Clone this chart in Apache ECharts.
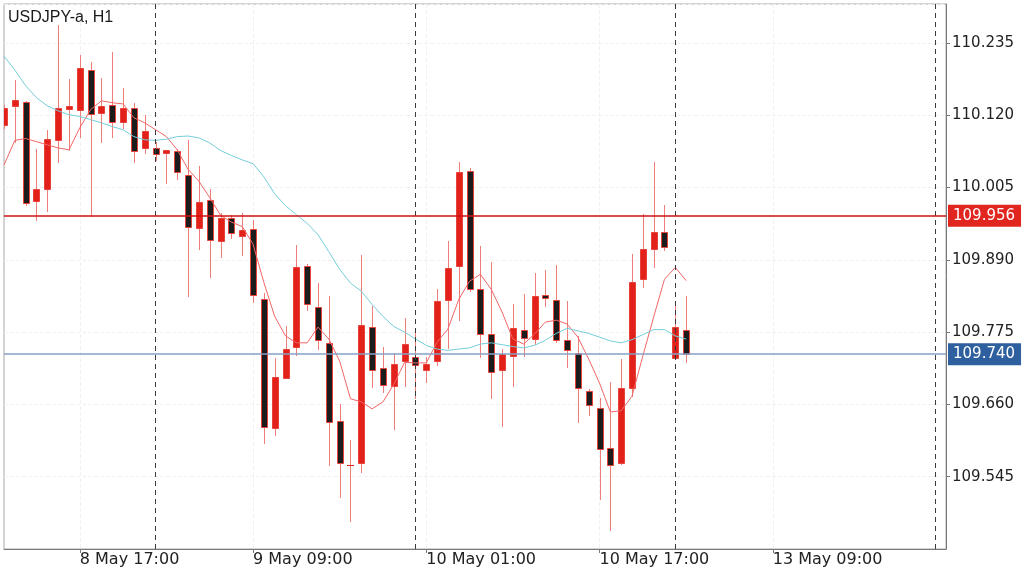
<!DOCTYPE html>
<html><head><meta charset="utf-8">
<script src="https://cdn.jsdelivr.net/npm/echarts@6/dist/echarts.min.js"></script>
<style>html,body{margin:0;padding:0;background:#fff}#c{width:1024px;height:577px}</style>
</head><body><div id="c"></div>
<script>
const chartTitle = 'USDJPY-a, H1';
const categories = [
 '8 May 10:00','8 May 11:00','8 May 12:00','8 May 13:00','8 May 14:00','8 May 15:00','8 May 16:00','8 May 17:00','8 May 18:00','8 May 19:00','8 May 20:00','8 May 21:00','8 May 22:00','8 May 23:00',
 '9 May 00:00','9 May 01:00','9 May 02:00','9 May 03:00','9 May 04:00','9 May 05:00','9 May 06:00','9 May 07:00','9 May 08:00','9 May 09:00','9 May 10:00','9 May 11:00','9 May 12:00','9 May 13:00','9 May 14:00','9 May 15:00','9 May 16:00','9 May 17:00','9 May 18:00','9 May 19:00','9 May 20:00','9 May 21:00','9 May 22:00','9 May 23:00',
 '10 May 00:00','10 May 01:00','10 May 02:00','10 May 03:00','10 May 04:00','10 May 05:00','10 May 06:00','10 May 07:00','10 May 08:00','10 May 09:00','10 May 10:00','10 May 11:00','10 May 12:00','10 May 13:00','10 May 14:00','10 May 15:00','10 May 16:00','10 May 17:00','10 May 18:00','10 May 19:00','10 May 20:00','10 May 21:00','10 May 22:00','10 May 23:00',
 '13 May 00:00','13 May 01:00','13 May 02:00','13 May 03:00','13 May 04:00','13 May 05:00','13 May 06:00','13 May 07:00','13 May 08:00','13 May 09:00','13 May 10:00','13 May 11:00','13 May 12:00','13 May 13:00','13 May 14:00','13 May 15:00','13 May 16:00','13 May 17:00','13 May 18:00','13 May 19:00','13 May 20:00','13 May 21:00','13 May 22:00','13 May 23:00',
 '14 May 00:00','14 May 01:00'
];
const opens = [110.104,110.135,110.141,109.983,110.002,110.081,110.130,110.128,110.192,110.123,110.137,110.110,110.132,110.068,110.068,110.060,110.063,110.025,109.940,109.985,109.920,109.957,109.928,109.939,109.827,109.622,109.702,109.752,109.880,109.815,109.758,109.633,109.564,109.567,109.783,109.718,109.690,109.729,109.736,109.714,109.729,109.826,109.880,110.032,109.843,109.772,109.715,109.737,109.779,109.764,109.834,109.826,109.763,109.742,109.682,109.655,109.591,109.567,109.686,109.860,109.908,109.934,109.734,109.779];
const closes = [110.131,110.144,109.981,110.003,110.083,110.131,110.134,110.195,110.122,110.135,110.109,110.131,110.063,110.095,110.058,110.064,110.029,109.943,109.982,109.921,109.956,109.932,109.937,109.834,109.624,109.703,109.748,109.878,109.819,109.762,109.632,109.567,109.564,109.786,109.714,109.691,109.724,109.756,109.723,109.724,109.825,109.877,110.029,109.843,109.772,109.711,109.740,109.781,109.765,109.832,109.830,109.762,109.746,109.686,109.659,109.589,109.564,109.686,109.855,109.908,109.935,109.911,109.783,109.740];
const lows = [110.100,110.078,109.978,109.954,109.967,110.045,110.064,110.086,109.959,110.078,110.086,110.100,110.045,110.060,110.049,110.013,110.018,109.833,109.907,109.862,109.895,109.925,109.897,109.823,109.599,109.611,109.702,109.739,109.811,109.748,109.563,109.513,109.475,109.553,109.687,109.680,109.621,109.690,109.671,109.696,109.723,109.749,109.795,109.840,109.735,109.671,109.625,109.690,109.737,109.756,109.816,109.759,109.719,109.632,109.643,109.509,109.460,109.566,109.674,109.847,109.879,109.906,109.734,109.727];
const highs = [110.136,110.176,110.143,110.066,110.097,110.264,110.177,110.216,110.204,110.180,110.221,110.163,110.140,110.121,110.078,110.065,110.066,110.081,110.039,110.003,109.965,109.962,109.965,109.954,109.838,109.734,109.785,109.913,109.884,109.853,109.833,109.661,109.604,109.897,109.816,109.752,109.742,109.798,109.775,109.736,109.844,109.920,110.045,110.036,109.912,109.886,109.748,109.819,109.835,109.869,109.874,109.881,109.825,109.769,109.685,109.670,109.696,109.733,109.900,109.963,110.046,109.977,109.822,109.833];
const maFast = [110.041,110.080,110.083,110.078,110.073,110.068,110.065,110.100,110.129,110.143,110.140,110.138,110.116,110.108,110.097,110.086,110.065,110.034,110.015,109.989,109.961,109.950,109.943,109.915,109.854,109.800,109.769,109.758,109.758,109.783,109.764,109.729,109.669,109.664,109.653,109.664,109.692,109.727,109.726,109.726,109.759,109.780,109.827,109.856,109.867,109.843,109.807,109.764,109.756,109.772,109.791,109.794,109.788,109.767,109.732,109.694,109.648,109.650,109.673,109.737,109.799,109.859,109.878,109.857];
const maSlow = [110.214,110.192,110.167,110.148,110.135,110.127,110.121,110.118,110.113,110.108,110.102,110.097,110.086,110.081,110.080,110.082,110.086,110.087,110.084,110.076,110.064,110.056,110.049,110.043,110.022,109.995,109.976,109.962,109.948,109.930,109.903,109.875,109.853,109.840,109.819,109.800,109.784,109.775,109.764,109.754,109.748,109.746,109.748,109.750,109.756,109.758,109.755,109.752,109.750,109.754,109.762,109.773,109.781,109.777,109.773,109.767,109.761,109.758,109.763,109.771,109.779,109.779,109.769,109.764];
const xTickLabels = ['8 May 17:00','9 May 09:00','10 May 01:00','10 May 17:00','13 May 09:00'];
const daySeparators = ['9 May 00:00','10 May 00:00','13 May 00:00','14 May 00:00'];
const levelLine = 109.956;
const bidLine = 109.740;
const yMin = 109.430, yMax = 110.297, yStep = 0.115;

const candleData = opens.map((o, i) => [i, o, closes[i], lows[i], highs[i]]);
const showX = (idx, val) => xTickLabels.indexOf(val) >= 0;

function renderCandle(params, api) {
  const i = api.value(0), o = api.value(1), c = api.value(2), l = api.value(3), h = api.value(4);
  const pO = api.coord([i, o]);
  const X = Math.round(pO[0]);
  const yO = pO[1], yC = api.coord([i, c])[1], yL = api.coord([i, l])[1], yH = api.coord([i, h])[1];
  const children = [{
    type: 'line',
    shape: { x1: X + 0.5, y1: Math.round(yH), x2: X + 0.5, y2: Math.round(yL) + 1 },
    style: { stroke: '#ef7d78', lineWidth: 1 }
  }];
  if (o === c) {
    children.push({ type: 'line', shape: { x1: X - 3, y1: Math.round(yO) + 0.5, x2: X + 4, y2: Math.round(yO) + 0.5 },
      style: { stroke: '#e3221c', lineWidth: 1 } });
  } else {
    const top = Math.round(Math.min(yO, yC)) + 0.5, bot = Math.round(Math.max(yO, yC)) + 0.5;
    children.push({ type: 'rect', shape: { x: X - 2.5, y: top, width: 6, height: Math.max(bot - top, 1) },
      style: { fill: c > o ? '#e2211b' : '#1c1c1c', stroke: '#e8433b', lineWidth: 1 } });
  }
  return { type: 'group', children };
}

const chart = echarts.init(document.getElementById('c'), null, { renderer: 'canvas' });
const lblFont = 'DejaVu Sans';
chart.setOption({
  animation: false,
  backgroundColor: '#ffffff',
  title: { text: chartTitle, left: 3, top: 5,
    textStyle: { fontFamily: 'Liberation Sans', fontSize: 16, fontWeight: 'normal', color: '#1a1a1a' } },
  grid: { left: 4, right: 78, top: 4, bottom: 28, show: true, borderColor: '#a8a8a8', borderWidth: 1 },
  xAxis: {
    type: 'category', data: categories, boundaryGap: false,
    axisLine: { show: true, lineStyle: { color: '#7a7a7a' } },
    axisTick: { show: true, interval: showX, length: 4, lineStyle: { color: '#7a7a7a' } },
    axisLabel: { interval: showX, align: 'left', margin: 3, fontFamily: lblFont, fontSize: 16, color: '#222' },
    splitLine: { show: true, interval: showX, lineStyle: { color: '#f1f1f1', type: 'dashed' } }
  },
  yAxis: {
    type: 'value', position: 'right', min: yMin, max: yMax, interval: yStep,
    axisLine: { show: true, lineStyle: { color: '#7a7a7a' } },
    axisTick: { show: true, length: 4, lineStyle: { color: '#7a7a7a' } },
    axisLabel: { showMinLabel: false, showMaxLabel: false, formatter: v => v.toFixed(3), margin: 6,
      fontFamily: lblFont, fontSize: 15, color: '#222' },
    splitLine: { show: true, lineStyle: { color: '#f1f1f1', type: 'dashed' } }
  },
  series: [
    { type: 'custom', name: 'USDJPY', renderItem: renderCandle, data: candleData, clip: true, z: 2,
      encode: { x: 0, y: [1, 2, 3, 4] } },
    { type: 'line', name: 'MA fast', data: maFast, symbol: 'none', z: 3,
      lineStyle: { color: '#f26666', width: 1 } },
    { type: 'line', name: 'MA slow', data: maSlow, symbol: 'none', z: 3,
      lineStyle: { color: '#74cedb', width: 1 },
      markLine: {
        symbol: 'none', silent: true, animation: false,
        data: [
          ...daySeparators.map(d => ({ xAxis: d, label: { show: false },
            lineStyle: { color: '#3a3a3a', width: 1, type: [5, 4] } })),
          { yAxis: levelLine, lineStyle: { color: '#cf1111', width: 1.5, type: 'solid' },
            label: { show: true, position: 'end', distance: 2, formatter: levelLine.toFixed(3),
              backgroundColor: '#e0261e', color: '#fff', padding: [4, 6, 3, 5], fontFamily: lblFont, fontSize: 15 } },
          { yAxis: bidLine, lineStyle: { color: '#86a0c6', width: 1.5, type: 'solid' },
            label: { show: true, position: 'end', distance: 2, formatter: bidLine.toFixed(3),
              backgroundColor: '#2e5f9e', color: '#fff', padding: [4, 6, 3, 5], fontFamily: lblFont, fontSize: 15 } }
        ]
      } }
  ]
});
</script></body></html>
